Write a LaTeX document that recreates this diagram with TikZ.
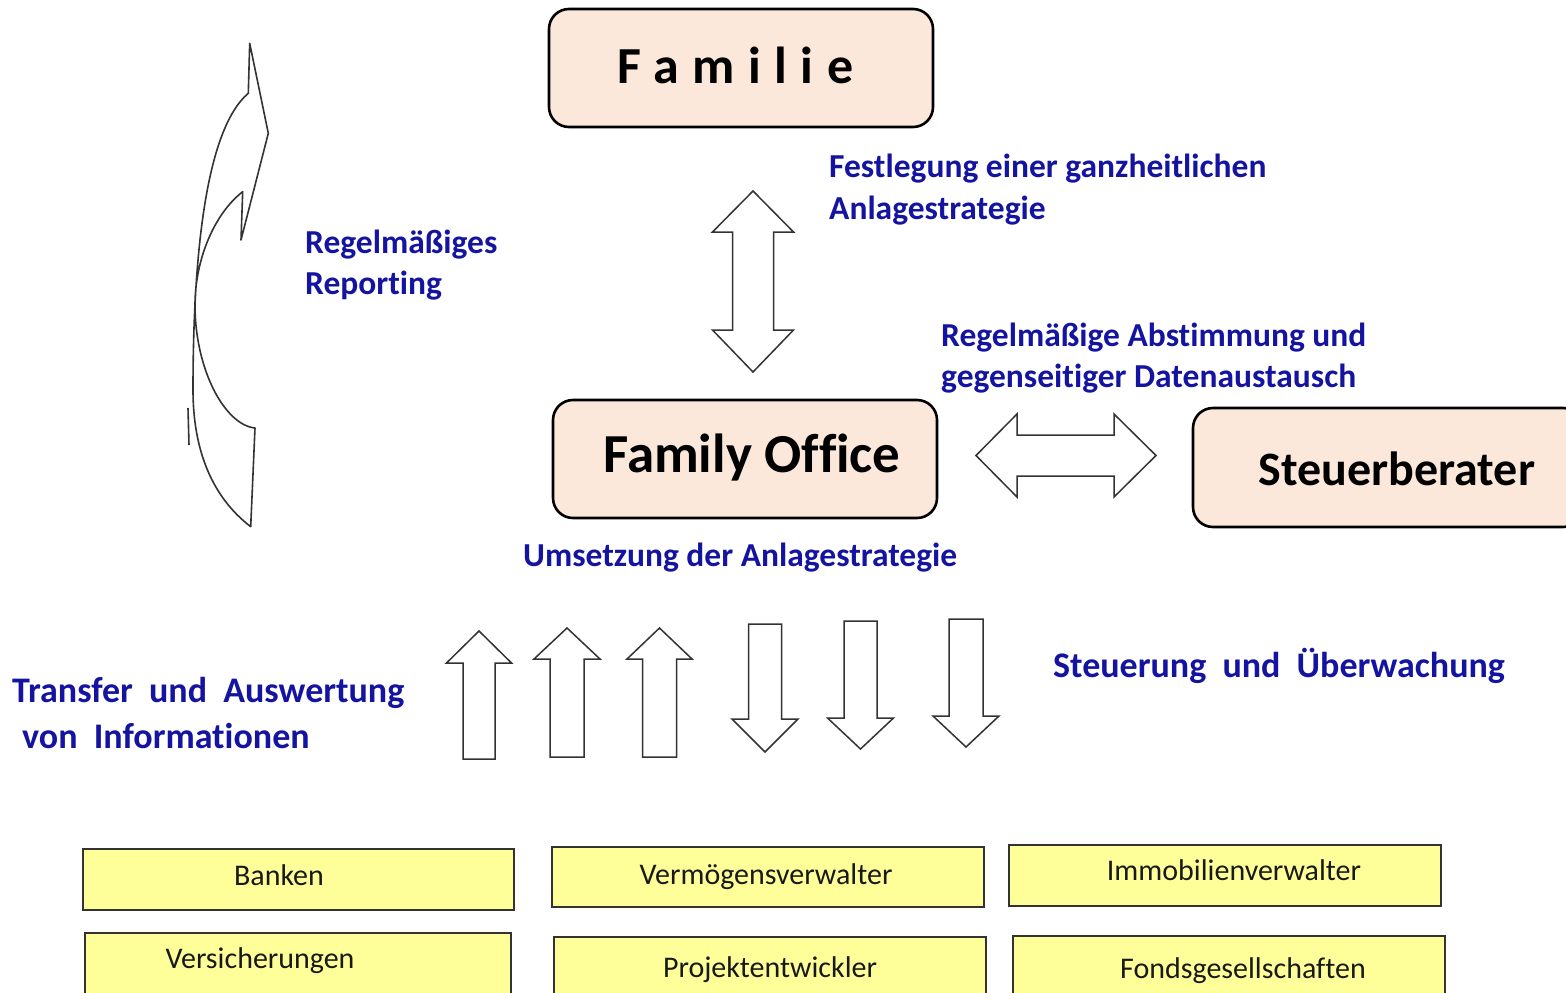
\documentclass[tikz,border=0pt]{standalone}
\usepackage{fontspec}
\setmainfont{Carlito}[RawFeature={-liga;-clig;-dlig}]
\newfontfamily\spacedfont[LetterSpace=26]{Carlito}

\definecolor{peach}{RGB}{252,232,218}
\definecolor{pale}{RGB}{255,255,153}
\definecolor{navy}{RGB}{20,20,160}

\tikzset{
  roundbox/.style={draw=black, line width=2.6pt, fill=peach, rounded corners=20pt, inner sep=0pt},
  yellowbox/.style={draw=black!80, line width=1.5pt, fill=pale},
  boxtitle/.style={font=\bfseries\fontsize{#1}{#1}\selectfont, anchor=base, inner sep=0pt},
  boxtext/.style={font=\fontsize{30}{30}\selectfont, text=black!90, anchor=base, inner sep=0pt},
  bluelabel/.style={text=navy, font=\bfseries\fontsize{33.5}{40}\selectfont, anchor=base west, inner sep=0pt},
  biglabel/.style={text=navy, font=\bfseries\fontsize{36}{44}\selectfont, anchor=base west, inner sep=0pt},
  blockarrow/.style={draw=black!80, line width=1.5pt, fill=white, line join=miter},
  curvedarrow/.style={draw=black!80, line width=1.6pt, line join=round}
}

% block arrow: centre x, tip y, head base y, head half width, shaft half width, tail y
\newcommand\blockshape[6]{%
  \draw[blockarrow] (#1,#2) -- (#1+#4,#3) -- (#1+#5,#3) -- (#1+#5,#6)
    -- (#1-#5,#6) -- (#1-#5,#3) -- (#1-#4,#3) -- cycle;}
\newcommand\wsp{\hspace{0.45em}}

\begin{document}
\begin{tikzpicture}[x=1pt,y=-1pt]
\useasboundingbox (0,0) rectangle (1566,993);
\fill[white] (0,0) rectangle (1566,993);
\clip (0,0) rectangle (1566,993);

% main boxes
\node[roundbox, minimum width=384pt, minimum height=118pt] (familie) at (741,68) {};
\node[boxtitle=52, anchor=base west] (familieT) at (617,83) {\spacedfont Familie};
\node[roundbox, minimum width=384pt, minimum height=118pt] (office) at (745,459) {};
\node[boxtitle=55] (officeT) at (752,472) {Family Office};
\node[roundbox, minimum width=390pt, minimum height=119pt] (steuerb) at (1388,467.5) {};
\node[boxtitle=48] (steuerbT) at (1397,485) {Steuerberater};

% double arrow Familie <-> Family Office
\draw[blockarrow] (753,191) -- (793.5,232) -- (773.5,232) -- (773.5,330) -- (793.5,330)
  -- (753,372) -- (712.5,330) -- (732.5,330) -- (732.5,232) -- (712.5,232) -- cycle;
% double arrow Family Office <-> Steuerberater
\draw[blockarrow] (976,455.5) -- (1017,414) -- (1017,435) -- (1114,435) -- (1114,414)
  -- (1156,455.5) -- (1114,497) -- (1114,476) -- (1017,476) -- (1017,497) -- cycle;

% curved reporting arrow
\draw[curvedarrow] (249.7,43.3) -- (268.3,133.3) -- (241,240) -- (242.7,191.7)
  .. controls (214,214) and (195,260) .. (195,305)
  .. controls (195,370) and (225,425) .. (255,428)
  -- (250.7,526.7)
  .. controls (212,497) and (193,450) .. (193,390)
  .. controls (193,260) and (205,130) .. (248.3,93.3) -- cycle;
\draw[curvedarrow] (188,408) -- (189,445);

% arrows up
\blockshape{479}{631}{663}{32.5}{16}{759}
\blockshape{567}{628}{659}{33}{17}{757}
\blockshape{659.5}{628}{659}{32.5}{17}{757}
% arrows down
\blockshape{765}{752}{719}{33}{16.5}{624}
\blockshape{860.5}{749}{718}{33}{16.5}{621}
\blockshape{966}{747}{716}{33}{17}{619}

% labels
\node[bluelabel] (festA) at (829,177) {Festlegung einer ganzheitlichen};
\node[bluelabel] (festB) at (829,219) {Anlagestrategie};
\node[bluelabel] (repA) at (305,253) {Regelmäßiges};
\node[bluelabel] (repB) at (305,294) {Reporting};
\node[bluelabel] (abstA) at (941,346) {Regelmäßige Abstimmung und};
\node[bluelabel] (abstB) at (941,387) {gegenseitiger Datenaustausch};
\node[bluelabel] (umsetz) at (523,566) {Umsetzung der Anlagestrategie};
\node[biglabel] (steuer) at (1053,677) {Steuerung\wsp und\wsp Überwachung};
\node[biglabel] (transA) at (12,702) {Transfer\wsp und\wsp Auswertung};
\node[biglabel] (transB) at (22,748) {von\wsp Informationen};

% partner boxes
\draw[yellowbox] (83,849) rectangle (514,910);
\node[boxtext] (banken) at (279,885) {Banken};
\draw[yellowbox] (85,933) rectangle (511,1005);
\node[boxtext] (vers) at (260,968) {Versicherungen};
\draw[yellowbox] (552,847) rectangle (984,907);
\node[boxtext] (verm) at (766,884) {Vermögensverwalter};
\draw[yellowbox] (554,937) rectangle (986,1005);
\node[boxtext] (proj) at (770,977) {Projektentwickler};
\draw[yellowbox] (1009,845) rectangle (1441,906);
\node[boxtext] (immo) at (1234,880) {Immobilienverwalter};
\draw[yellowbox] (1013,936) rectangle (1445,1005);
\node[boxtext] (fonds) at (1243,978) {Fondsgesellschaften};
\end{tikzpicture}
\end{document}
